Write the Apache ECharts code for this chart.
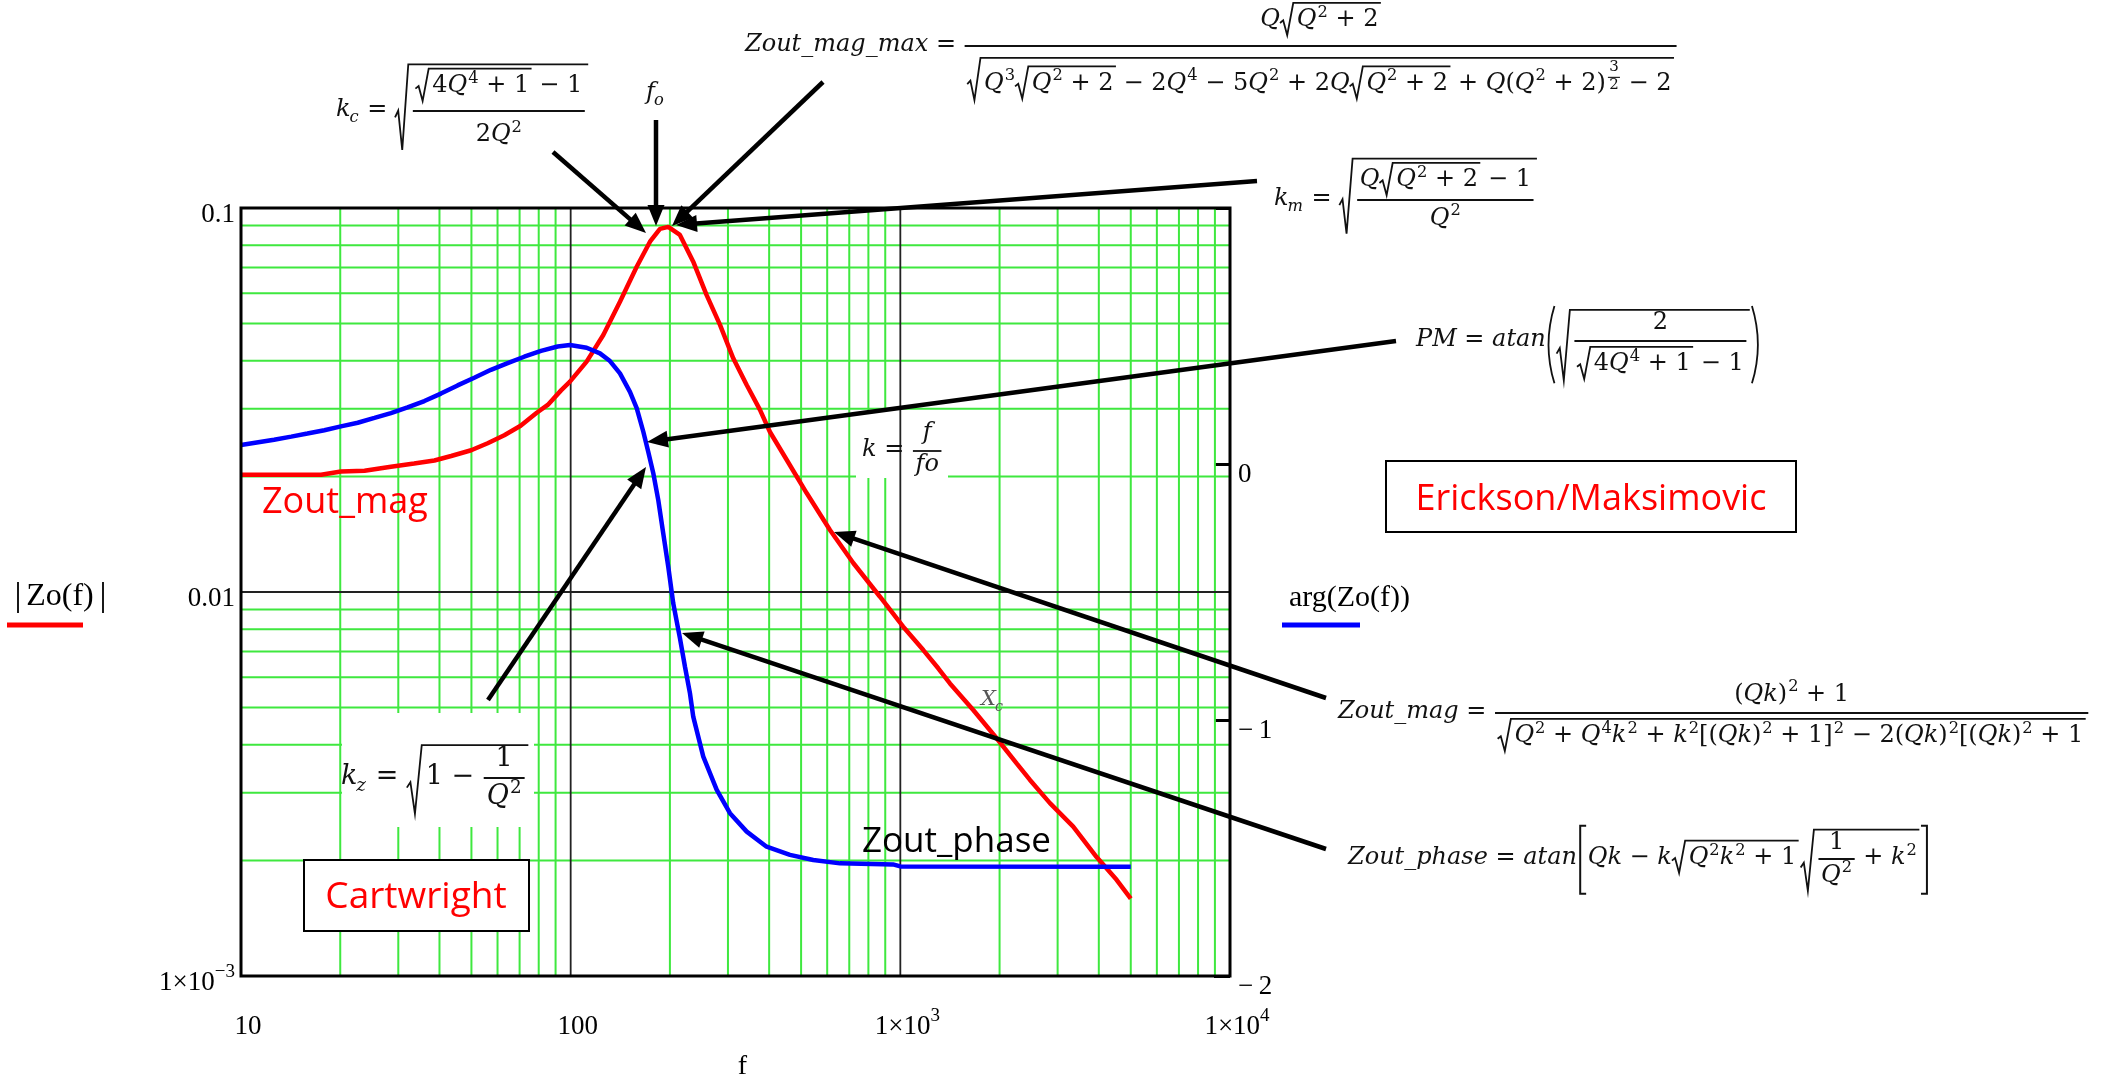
<!DOCTYPE html>
<html>
<head>
<meta charset="utf-8">
<script src="https://cdn.jsdelivr.net/npm/echarts@6/dist/echarts.min.js"></script>
<style>
  html, body { margin: 0; padding: 0; background: #fff; }
  #chart { width: 2116px; height: 1078px; }
</style>
</head>
<body>
<div id="chart"></div>
<script>
// Output impedance Zo(f) of the filter: magnitude |Zo| and phase arg(Zo) in radians.
const magFreq = [10, 17.5, 20.1, 23.7, 28.5, 33.5, 38.6, 43.4, 49.9, 56.0,
  62.9, 70.5, 78.9, 85.2, 93.5, 99.5, 111.8, 125.6, 141.1, 158.6,
  174, 186.6, 197.7, 214.5, 235.4, 258.5, 283.8, 311.3, 342, 375.2,
  402.3, 452, 519.7, 611.7, 719.8, 867.4, 1020, 1174, 1303, 1414,
  1664, 1959, 2253, 2473, 2843, 3345, 3939, 4529, 5000];
const magValue = [0.0202, 0.0202, 0.0206, 0.0207, 0.0212, 0.0216, 0.0220, 0.0226, 0.0234, 0.0244,
  0.0256, 0.0271, 0.0293, 0.0307, 0.0335, 0.0353, 0.0398, 0.0467, 0.0570, 0.0703,
  0.0817, 0.0882, 0.0893, 0.0851, 0.0725, 0.0593, 0.0496, 0.0406, 0.0346, 0.0298,
  0.0261, 0.0221, 0.0181, 0.0145, 0.0119, 0.00972, 0.00812, 0.00706, 0.00633, 0.00578,
  0.00493, 0.00416, 0.00358, 0.00324, 0.00282, 0.00245, 0.00204, 0.00178, 0.00159];

const phaseFreq = [10, 12.6, 14.2, 15.9, 17.9, 20.1, 22.6, 25.4, 28.5, 32.0,
  36.0, 40.4, 45.4, 51.0, 57.3, 64.4, 72.3, 81.3, 91.3, 99.5,
  111.8, 122.7, 131.6, 141.1, 151.3, 158.6, 166.1, 171.9, 178.1, 184.4,
  190.9, 197.7, 204.7, 214.5, 222.2, 230.1, 235.4, 252.5, 277.4, 304.2,
  342, 393, 462.6, 544.4, 656, 950, 1000, 5000];
const phaseValue = [0.074, 0.095, 0.107, 0.119, 0.132, 0.147, 0.161, 0.180, 0.199, 0.221,
  0.246, 0.275, 0.307, 0.337, 0.368, 0.394, 0.419, 0.442, 0.459, 0.465,
  0.454, 0.432, 0.402, 0.354, 0.282, 0.218, 0.126, 0.048, -0.036, -0.141,
  -0.271, -0.401, -0.544, -0.68, -0.792, -0.896, -0.987, -1.143, -1.273, -1.364,
  -1.436, -1.495, -1.527, -1.547, -1.560, -1.564, -1.572, -1.573];

// Tick labels ("^" marks the exponent)
const freqTicks = [10, 100, 1000, 10000];
const freqTickLabels = ['10', '100', '1×10^3', '1×10^4'];
const magTicks = [0.001, 0.01, 0.1];
const magTickLabels = ['1×10^−3', '0.01', '0.1'];
const phaseTicks = [-2, -1, 0];
const phaseTickLabels = ['−\u20092', '−\u20091', '0'];

// Log-paper grid: decade lines and the 2..9 subdivisions
const freqRange = [10, 10000];
const magRange = [0.001, 0.1];
const freqDecades = [100, 1000];
const magDecades = [0.01];
const subSteps = [2, 3, 4, 5, 6, 7, 8, 9];
const freqMinor = [10, 100, 1000].flatMap(d => subSteps.map(s => s * d));
const magMinor = [0.001, 0.01].flatMap(d => subSteps.map(s => +(s * d).toPrecision(3)));

const magPairs = magFreq.map((f, i) => [f, magValue[i]]);
const phasePairs = phaseFreq.map((f, i) => [f, phaseValue[i]]);

// each grid line is a two-point segment; '-' breaks the polyline between segments
function gridSegments(xs, ys) {
  const out = [];
  xs.forEach(x => out.push([x, magRange[0]], [x, magRange[1]], ['-', '-']));
  ys.forEach(y => out.push([freqRange[0], y], [freqRange[1], y], ['-', '-']));
  return out;
}

function richTick(label) {
  const parts = label.split('^');
  return parts.length > 1 ? '{n|' + parts[0] + '}{s|' + parts[1] + '}' : '{n|' + parts[0] + '}';
}
function tickFormatter(ticks, labels) {
  return function (v) {
    for (let i = 0; i < ticks.length; i++) {
      if (Math.abs(v - ticks[i]) <= Math.abs(ticks[i]) * 1e-6 + 1e-9) return richTick(labels[i]);
    }
    return '';
  };
}
const TICK_FONT = '"Liberation Serif", "Times New Roman", serif';
const tickRich = {
  n: { fontFamily: TICK_FONT, fontSize: 27, lineHeight: 40, color: '#000' },
  s: { fontFamily: TICK_FONT, fontSize: 19, lineHeight: 10, verticalAlign: 'top', color: '#000' }
};

// ---------- annotation drawing helpers ----------
const G = [];
const INK = '#111';
function gText(s, x, y, font, fill, align, z) {
  G.push({ type: 'text', x: x, y: y, z: z || 10, silent: true,
    style: { text: s, font: font, fill: fill || INK, align: align || 'left', verticalAlign: 'middle' } });
}
function gLine(x1, y1, x2, y2, w, color, z) {
  G.push({ type: 'line', z: z || 10, silent: true, shape: { x1, y1, x2, y2 },
    style: { stroke: color || INK, lineWidth: w || 1.5, lineCap: 'butt' } });
}
function gPoly(points, w, color, z) {
  G.push({ type: 'polyline', z: z || 10, silent: true, shape: { points },
    style: { stroke: color || INK, lineWidth: w || 1.5, fill: null, lineJoin: 'miter' } });
}
function gCurve(x1, y1, x2, y2, cx, cy, w) {
  G.push({ type: 'bezierCurve', z: 10, silent: true, shape: { x1, y1, x2, y2, cpx1: cx, cpy1: cy },
    style: { stroke: INK, lineWidth: w || 1.8, fill: null } });
}
function gRect(x, y, w, h, fill, stroke, lw, z) {
  G.push({ type: 'rect', z: z == null ? 10 : z, silent: true, shape: { x, y, width: w, height: h },
    style: { fill: fill || null, stroke: stroke || null, lineWidth: lw || 0 } });
}
function gArrow(x1, y1, x2, y2) {
  const ang = Math.atan2(y2 - y1, x2 - x1), L = 21, W = 8.5;
  const bx = x2 - L * Math.cos(ang), by = y2 - L * Math.sin(ang);
  const px = -Math.sin(ang), py = Math.cos(ang);
  gLine(x1, y1, bx + 4 * Math.cos(ang), by + 4 * Math.sin(ang), 4.5, '#000', 12);
  G.push({ type: 'polygon', z: 12, silent: true,
    shape: { points: [[x2, y2], [bx + W * px, by + W * py], [bx - W * px, by - W * py]] },
    style: { fill: '#000' } });
}

// ---------- a small box-layout typesetter for the formulas ----------
let S = 24;
const MATH = '"DejaVu Serif", serif';
const mctx = document.createElement('canvas').getContext('2d');
const fnt = (size, it) => (it ? 'italic ' : '') + size.toFixed(1) + 'px ' + MATH;
const tw = (s, size, it) => { mctx.font = fnt(size, it); return mctx.measureText(s).width; };

function T(s, o) {
  o = o || {};
  const size = o.size || S, color = o.color || INK;
  const runs = s.match(/[A-Za-z_]+|[^A-Za-z_]+/g) || [];
  const items = runs.map(r => { const it = /[A-Za-z_]/.test(r); return { r, it, w: tw(r, size, it) }; });
  const w = items.reduce((t, i) => t + i.w, 0);
  return { w, a: size * 0.74, d: size * 0.22, draw(x, b) {
    let cx = x;
    for (const i of items) { gText(i.r, cx, b - size * 0.35, fnt(size, i.it), color); cx += i.w; }
  } };
}
const Nd = v => (typeof v === 'string' ? T(v) : v);
function H() {
  const ns = Array.from(arguments).map(Nd);
  return { w: ns.reduce((t, n) => t + n.w, 0), a: Math.max(...ns.map(n => n.a)), d: Math.max(...ns.map(n => n.d)),
    draw(x, b) { let cx = x; ns.forEach(n => { n.draw(cx, b); cx += n.w; }); } };
}
function Sp(w) { return { w, a: 0, d: 0, draw() {} }; }
function Sup(base, sup) {
  const bn = Nd(base), sn = typeof sup === 'string' ? T(sup, { size: S * 0.68 }) : sup, r = S * 0.42;
  return { w: bn.w + sn.w + 1, a: Math.max(bn.a, r + sn.a), d: bn.d,
    draw(x, b) { bn.draw(x, b); sn.draw(x + bn.w + 1, b - r); } };
}
function Sub(base, sub, color) {
  const bn = T(base, { color }), sn = T(sub, { size: S * 0.68, color }), l = S * 0.24;
  return { w: bn.w + sn.w, a: bn.a, d: Math.max(bn.d, l + sn.d),
    draw(x, b) { bn.draw(x, b); sn.draw(x + bn.w - 1, b + l); } };
}
function Frac(num, den, o) {
  o = o || {};
  num = Nd(num); den = Nd(den);
  const sz = o.size || S, pad = sz * 0.15, gap = sz * (o.gap || 0.2), ax = sz * 0.3, lw = o.lw || 1.8;
  const w = Math.max(num.w, den.w) + 2 * pad;
  return { w, a: ax + gap + num.d + num.a, d: gap + den.a + den.d - ax, draw(x, b) {
    const y = b - ax;
    gLine(x + 1, y, x + w - 1, y, lw);
    num.draw(x + (w - num.w) / 2, y - gap - num.d);
    den.draw(x + (w - den.w) / 2, y + gap + den.a);
  } };
}
function Sqrt(inner) {
  inner = Nd(inner);
  const rw = S * 0.6, pad = S * 0.1, top = inner.a + S * 0.14, bot = inner.d + S * 0.06;
  return { w: rw + inner.w + 2 * pad, a: top + 1, d: bot, draw(x, b) {
    const yt = b - top, yb = b + bot, h = yb - yt;
    gPoly([[x, yt + h * 0.62], [x + rw * 0.22, yt + h * 0.54], [x + rw * 0.5, yb], [x + rw * 0.92, yt],
      [x + rw + inner.w + 2 * pad, yt]], 1.8);
    inner.draw(x + rw + pad, b);
  } };
}
function Delim(inner, kind) {
  inner = Nd(inner);
  const dw = S * 0.45, top = inner.a + S * 0.12, bot = inner.d + S * 0.12;
  return { w: inner.w + 2 * dw, a: top, d: bot, draw(x, b) {
    const yt = b - top, yb = b + bot, ym = (yt + yb) / 2, xr = x + dw + inner.w;
    if (kind === 'paren') {
      gCurve(x + dw * 0.8, yt, x + dw * 0.8, yb, x - dw * 0.3, ym);
      gCurve(xr + dw * 0.2, yt, xr + dw * 0.2, yb, xr + dw * 1.3, ym);
    } else {
      gPoly([[x + dw * 0.85, yt], [x + dw * 0.3, yt], [x + dw * 0.3, yb], [x + dw * 0.85, yb]], 2);
      gPoly([[xr + dw * 0.15, yt], [xr + dw * 0.7, yt], [xr + dw * 0.7, yb], [xr + dw * 0.15, yb]], 2);
    }
    inner.draw(x + dw, b);
  } };
}
function place(node, x, axisY) { node.draw(x, axisY + S * 0.3); }
const Q2p2 = () => H(Sup('Q', '2'), ' + 2');
const Q4p1 = () => H('4', Sup('Q', '4'), ' + 1');

// ---------- formulas ----------
S = 24;
place(H('Zout_mag_max = ', Frac(
  H('Q', Sqrt(Q2p2())),
  Sqrt(H(Sup('Q', '3'), Sqrt(Q2p2()), ' − 2', Sup('Q', '4'), ' − 5', Sup('Q', '2'), ' + 2Q', Sqrt(Q2p2()),
    ' + Q(', Sup('Q', '2'), Sup(' + 2)', Frac(T('3', { size: 15 }), T('2', { size: 15 }), { size: 15, lw: 1.1, gap: 0.12 })), ' − 2')),
  { gap: 0.45 })),
  745, 46);

place(H(Sub('k', 'c'), ' = ', Sqrt(Frac(H(Sqrt(Q4p1()), ' − 1'), H('2', Sup('Q', '2')), { gap: 0.42 }))), 336, 111);

place(Sub('f', 'o'), 646, 94);

place(H(Sub('k', 'm'), ' = ', Sqrt(Frac(H('Q', Sqrt(Q2p2()), ' − 1'), Sup('Q', '2')))), 1274, 200);

place(H('PM = atan', Delim(Sqrt(Frac('2', H(Sqrt(Q4p1()), ' − 1'))), 'paren')), 1416, 341);

gRect(856, 410, 92, 68, '#fff', null, 0, 1.5);
place(H('k = ', Frac('f', 'fo')), 862, 451);

place(H('Zout_mag = ', Frac(
  H(Sup('(Qk)', '2'), ' + 1'),
  Sqrt(H(Sup('Q', '2'), ' + ', Sup('Q', '4'), Sup('k', '2'), ' + ', Sup('k', '2'), Sup('[(Qk)', '2'), ' + 1',
    Sup(']', '2'), ' − 2', Sup('(Qk)', '2'), Sup('[(Qk)', '2'), ' + 1')))),
  1338, 713);

place(H('Zout_phase = atan', Delim(H('Qk − k', Sqrt(H(Sup('Q', '2'), Sup('k', '2'), ' + 1')), Sp(2),
  Sqrt(H(Frac('1', Sup('Q', '2'), { gap: 0.12 }), ' + ', Sup('k', '2')))), 'bracket')), 1348, 859);

S = 27;
gRect(342, 713, 192, 114, '#fff', null, 0, 1.5);
place(H(Sub('k', 'z'), ' = ', Sqrt(H('1 − ', Frac('1', Sup('Q', '2'), { gap: 0.12 })))), 341, 778);

S = 21;
place(Sub('X', 'c', '#555'), 981, 701);

// ---------- arrows ----------
gArrow(553, 152, 646, 233);
gArrow(656, 120, 656, 226);
gArrow(823, 82, 672, 226);
gArrow(1257, 181, 676, 225);
gArrow(1396, 341, 647, 442);
gArrow(488, 700, 646, 467);
gArrow(1326, 698, 834, 532);
gArrow(1326, 849, 682, 633);

// ---------- labels, trace keys and boxes ----------
const LABEL = '"Open Sans", Lato, sans-serif';
gText('Zout_mag', 262, 503, '36px ' + LABEL, '#ff0000');
gText('Zout_phase', 862, 842, '35px ' + LABEL, '#000');
gRect(1386, 461, 410, 71, '#fff', '#000', 2);
gText('Erickson/Maksimovic', 1591, 500, '36px ' + LABEL, '#ff0000', 'center');
gRect(304, 860, 225, 71, '#fff', '#000', 2);
gText('Cartwright', 416, 897, '37px ' + LABEL, '#ff0000', 'center');

gText('Zo(f)', 60, 597, '32px ' + TICK_FONT, '#000', 'center');
gLine(18, 582, 18, 613, 1.8, '#000');
gLine(103, 582, 103, 613, 1.8, '#000');
gLine(7, 625, 83, 625, 5, '#ff0000');
gText('arg(Zo(f))', 1289, 598, '30px ' + TICK_FONT, '#000');
gLine(1282, 625, 1360, 625, 5, '#0000ff');

// plot frame
gRect(241, 208, 989, 768, null, '#000', 3, 6);

const chart = echarts.init(document.getElementById('chart'), null, { renderer: 'canvas' });
chart.setOption({
  animation: false,
  backgroundColor: '#fff',
  grid: { left: 241, top: 208, width: 989, height: 768, show: false, containLabel: false, outerBoundsMode: 'none' },
  xAxis: {
    type: 'log', logBase: 10, min: freqRange[0], max: freqRange[1],
    axisLine: { show: false }, axisTick: { show: false }, splitLine: { show: false },
    axisLabel: { margin: 31, padding: [0, 0, 0, 14], showMinLabel: true, showMaxLabel: true,
      formatter: tickFormatter(freqTicks, freqTickLabels), rich: tickRich },
    name: 'f', nameLocation: 'middle', nameGap: 77,
    nameTextStyle: { fontFamily: TICK_FONT, fontSize: 28, color: '#000', padding: [0, 0, 0, 14] }
  },
  yAxis: [
    {
      type: 'log', logBase: 10, min: magRange[0], max: magRange[1], position: 'left',
      axisLine: { show: false }, axisTick: { show: false }, splitLine: { show: false },
      axisLabel: { margin: 6, padding: [14, 0, 0, 0], showMinLabel: true, showMaxLabel: true,
        formatter: tickFormatter(magTicks, magTickLabels), rich: tickRich }
    },
    {
      type: 'value', min: -2, max: 1, interval: 1, position: 'right',
      axisLine: { show: false }, splitLine: { show: false },
      axisTick: { show: true, inside: true, length: 16, lineStyle: { color: '#000', width: 3 } },
      axisLabel: { margin: 8, padding: [21, 0, 0, 0], showMinLabel: true,
        formatter: tickFormatter(phaseTicks, phaseTickLabels), rich: tickRich }
    }
  ],
  series: [
    {
      name: 'grid-minor', type: 'line', yAxisIndex: 0, z: 1, silent: true, showSymbol: false,
      connectNulls: false, data: gridSegments(freqMinor, magMinor),
      lineStyle: { color: '#3fe83f', width: 2 }, emphasis: { disabled: true }
    },
    {
      name: 'grid-decade', type: 'line', yAxisIndex: 0, z: 2, silent: true, showSymbol: false,
      connectNulls: false, data: gridSegments(freqDecades, magDecades),
      lineStyle: { color: '#222', width: 1.8 }, emphasis: { disabled: true }
    },
    {
      name: 'Zout_mag', type: 'line', data: magPairs, yAxisIndex: 0, z: 3,
      showSymbol: false, smooth: false, lineStyle: { color: '#ff0000', width: 4.5 }
    },
    {
      name: 'Zout_phase', type: 'line', data: phasePairs, yAxisIndex: 1, z: 3,
      showSymbol: false, smooth: false, lineStyle: { color: '#0000ff', width: 4.5 }
    }
  ],
  graphic: { elements: G }
});
</script>
</body>
</html>
